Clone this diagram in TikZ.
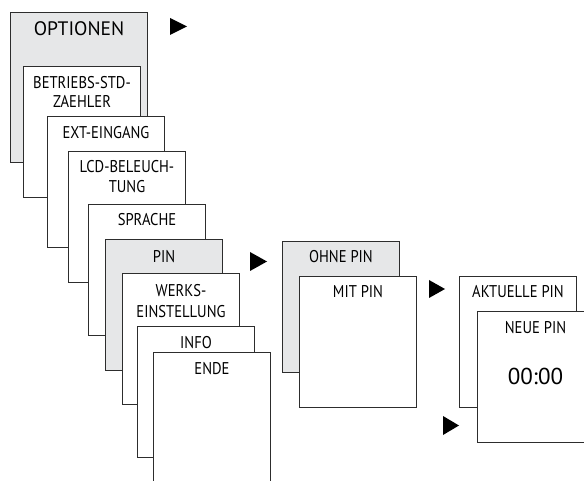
\documentclass[tikz,border=0pt]{standalone}
\usepackage{fontspec}
\setmainfont{PT Sans}
\newfontfamily\narrowfont{PT Sans}[FakeStretch=0.86]
\definecolor{boxgray}{RGB}{230,231,232}
\definecolor{edge}{RGB}{45,45,45}
\begin{document}
\begin{tikzpicture}[x=1pt,y=-1pt,
  menubox/.style={draw=edge, line width=1pt, fill=white, rectangle, inner sep=0pt,
    minimum width=117pt, minimum height=131pt, anchor=north west},
  graybox/.style={menubox, fill=boxgray},
  lbl/.style={anchor=base, inner sep=0pt, font=\narrowfont\fontsize{17}{20}\selectfont},
  title/.style={anchor=base, inner sep=0pt, font=\fontsize{19.5}{22}\selectfont},
  big/.style={anchor=base, inner sep=0pt, font=\fontsize{23}{26}\selectfont},
  tri/.style={fill=black}]
\useasboundingbox (0,0) rectangle (584,481);
\clip (0,0) rectangle (584,481);
% first column
\node[graybox, minimum width=137pt, minimum height=150pt] (b1) at (10,12) {};
\node[title] (l1) at ([yshift=-23.5pt]b1.north) {OPTIONEN};
\node[menubox] (b2) at (23,66) {};
\node[lbl] (l2a) at ([yshift=-23pt]b2.north) {BETRIEBS-STD-};
\node[lbl] (l2b) at ([yshift=-42pt]b2.north) {ZAEHLER};
\node[menubox] (b3) at (47,116) {};
\node[lbl] (l3) at ([yshift=-22.5pt]b3.north) {EXT-EINGANG};
\node[menubox] (b4) at (68,151) {};
\node[lbl] (l4a) at ([yshift=-22pt]b4.north) {LCD-BELEUCH-};
\node[lbl] (l4b) at ([yshift=-42pt]b4.north) {TUNG};
\node[menubox] (b5) at (88,204) {};
\node[lbl] (l5) at ([yshift=-22pt]b5.north) {SPRACHE};
\node[graybox] (b6) at (105,239) {};
\node[lbl] (l6) at ([yshift=-23pt]b6.north) {PIN};
\node[menubox] (b7) at (122,273) {};
\node[lbl] (l7a) at ([yshift=-24pt]b7.north) {WERKS-};
\node[lbl] (l7b) at ([yshift=-44pt]b7.north) {EINSTELLUNG};
\node[menubox] (b8) at (137,326) {};
\node[lbl] (l8) at ([yshift=-22pt]b8.north) {INFO};
\node[menubox, minimum height=160pt] (b9) at (153,352) {};
\node[lbl] (l9) at ([yshift=-22pt]b9.north) {ENDE};
% second column
\node[graybox] (c1) at (282,241) {};
\node[lbl] (k1) at ([yshift=-21pt]c1.north) {OHNE PIN};
\node[menubox] (c2) at (299,276) {};
\node[lbl] (k2) at ([yshift=-22pt]c2.north) {MIT PIN};
% third column
\node[menubox] (d1) at (459,276) {};
\node[lbl] (m1) at ([yshift=-22pt]d1.north) {AKTUELLE PIN};
\node[menubox, minimum width=140pt] (d2) at (477,311) {};
\node[lbl] (m2) at (535.5,333) {NEUE PIN};
\node[big] (m3) at (535.5,384) {00:00};
% arrows
\fill[tri] (170,18) -- (187,26.5) -- (170,35) -- cycle;
\fill[tri] (250,252) -- (267,261.5) -- (250,271) -- cycle;
\fill[tri] (429,280) -- (445,289) -- (429,298) -- cycle;
\fill[tri] (443,416) -- (459,425.5) -- (443,435) -- cycle;
\end{tikzpicture}
\end{document}
